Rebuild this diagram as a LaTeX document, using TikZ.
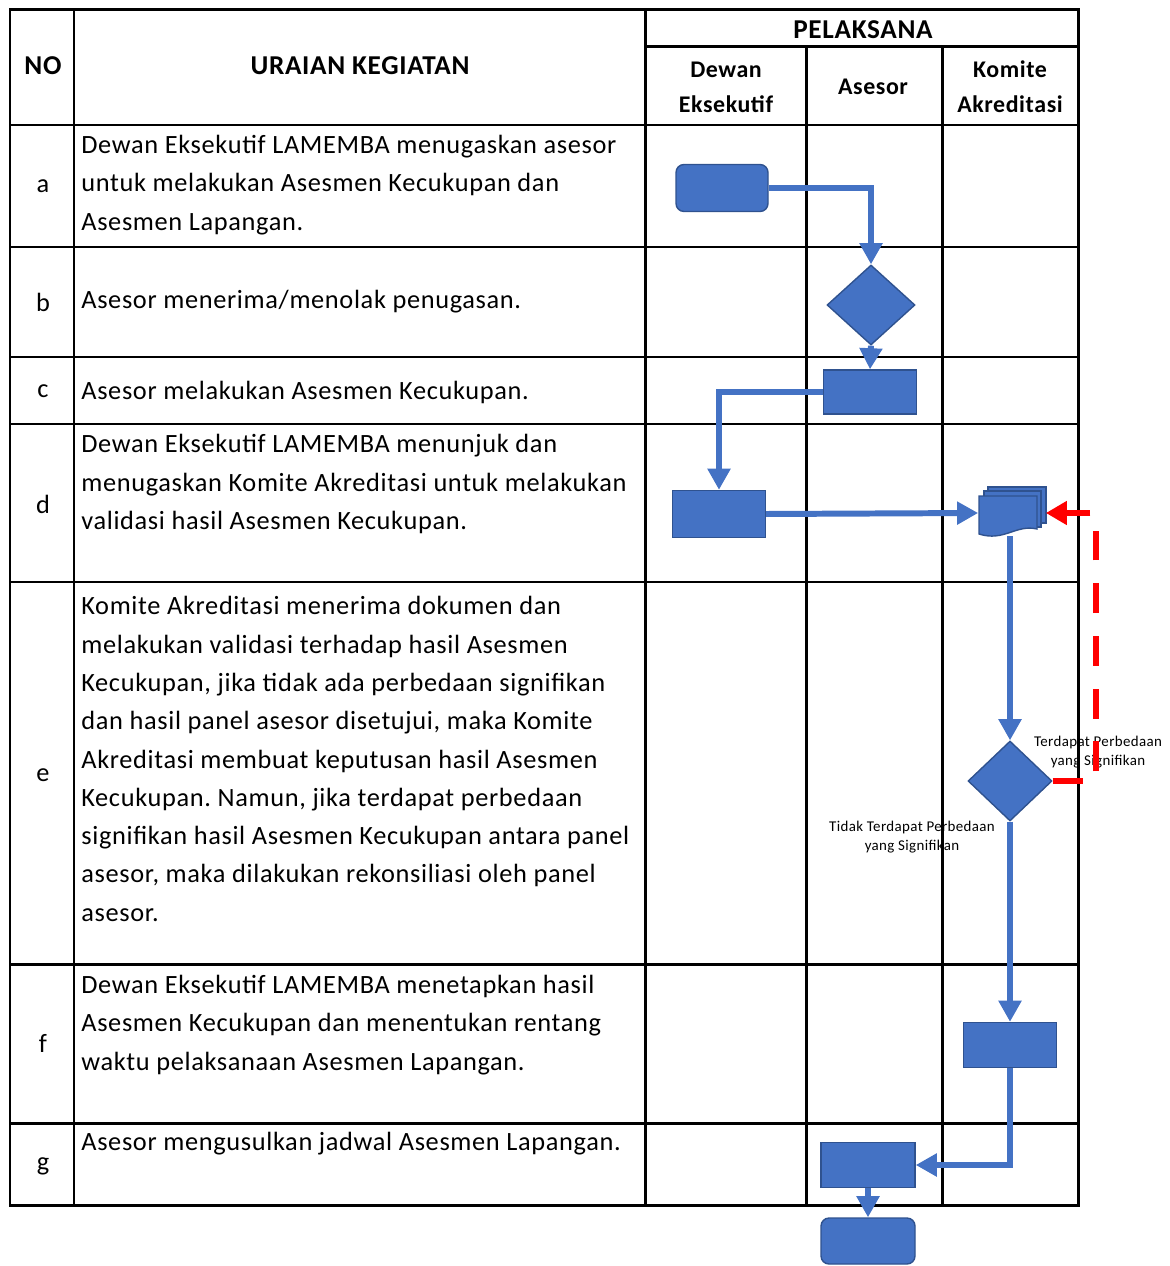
\documentclass[tikz,border=0pt]{standalone}
\usepackage{fontspec}
\setmainfont[LetterSpace=2.5]{Carlito}
\frenchspacing
\usetikzlibrary{shapes.geometric,arrows.meta}
\definecolor{flowblue}{HTML}{4472C4}
\definecolor{flowedge}{HTML}{2F528F}
\tikzset{
tabline/.style={line width=1.7pt},
kegiatan/.style={font=\fontsize{15}{21.8}\selectfont, align=left, anchor=west, inner sep=0pt},
nomor/.style={font=\fontsize{15}{21.8}\selectfont, inner sep=0pt},
judul/.style={font=\fontsize{15.5}{19.8}\selectfont\bfseries, align=center, inner sep=0pt},
pelaku/.style={font=\fontsize{13.6}{19.8}\selectfont\bfseries, align=center, inner sep=0pt},
catatan/.style={font=\fontsize{8.5}{10.8}\selectfont, align=center, inner sep=0pt},
proses/.style={draw=flowedge, fill=flowblue, line width=0.8pt, inner sep=0pt},
terminal/.style={proses, rounded corners=0.16cm},
putusan/.style={proses, diamond},
alur/.style={draw=flowblue, line width=3.4pt, -{Triangle[length=12pt,width=12.5pt]}},
balik/.style={draw=red, line width=3.4pt, dash pattern=on 17pt off 13pt, -{Triangle[length=12pt,width=13pt]}}
}
\begin{document}
\begin{tikzpicture}[x=0.02cm,y=-0.02cm]
\useasboundingbox (0,0) rectangle (1169,1266);
% header
\node[judul] (hno) at (43,66) {NO};
\node[judul] (hur) at (360,66) {URAIAN KEGIATAN};
\node[judul] (hpl) at (863,30) {PELAKSANA};
\node[pelaku] (hde) at (726,87) {Dewan\\Eksekutif};
\node[pelaku] (has) at (873,87) {Asesor};
\node[pelaku] (hko) at (1010,87) {Komite\\Akreditasi};
% nomor
\node[nomor] (noa) at (43,186) {a};
\node[nomor] (nob) at (43,302) {b};
\node[nomor] (noc) at (43,391) {c};
\node[nomor] (nod) at (43,504) {d};
\node[nomor] (noe) at (43,775) {e};
\node[nomor] (nof) at (43,1043) {f};
\node[nomor] (nog) at (43,1166) {g};
% uraian kegiatan
\node[kegiatan] (kega) at (81,185) {Dewan Eksekutif LAMEMBA menugaskan asesor\\untuk melakukan Asesmen Kecukupan dan\\Asesmen Lapangan.};
\node[kegiatan] (kegb) at (81,302) {Asesor menerima/menolak penugasan.};
\node[kegiatan] (kegc) at (81,392) {Asesor melakukan Asesmen Kecukupan.};
\node[kegiatan] (kegd) at (81,484) {Dewan Eksekutif LAMEMBA menunjuk dan\\menugaskan Komite Akreditasi untuk melakukan\\validasi hasil Asesmen Kecukupan.};
\node[kegiatan] (kege) at (81,759) {Komite Akreditasi menerima dokumen dan\\melakukan validasi terhadap hasil Asesmen\\Kecukupan, jika tidak ada perbedaan signifikan\\dan hasil panel asesor disetujui, maka Komite\\Akreditasi membuat keputusan hasil Asesmen\\Kecukupan. Namun, jika terdapat perbedaan\\signifikan hasil Asesmen Kecukupan antara panel\\asesor, maka dilakukan rekonsiliasi oleh panel\\asesor.};
\node[kegiatan] (kegf) at (81,1025) {Dewan Eksekutif LAMEMBA menetapkan hasil\\Asesmen Kecukupan dan menentukan rentang\\waktu pelaksanaan Asesmen Lapangan.};
\node[kegiatan] (kegg) at (81,1144) {Asesor mengusulkan jadwal Asesmen Lapangan.};
% catatan
\node[catatan] (ya) at (1098,752) {Terdapat Perbedaan\\yang Signifikan};
\node[catatan] (tidak) at (912,837) {Tidak Terdapat Perbedaan\\yang Signifikan};
% tabel
\draw[tabline] (10,10) rectangle (1078,1205);
\draw[tabline] (74,10)--(74,1205) (645,10)--(645,1205);
\draw[tabline] (806,47)--(806,1205) (942,47)--(942,1205) (645,47)--(1078,47);
\draw[tabline] (10,125)--(1078,125) (10,247)--(1078,247) (10,357)--(1078,357) (10,424)--(1078,424);
\draw[tabline] (10,582)--(1078,582) (10,964)--(1078,964) (10,1123)--(1078,1123);
% bagan alir
\node[terminal, minimum width=1.84cm, minimum height=0.94cm] (mulai) at (722,188) {};
\node[putusan, minimum width=1.76cm, minimum height=1.6cm] (terima) at (871,305) {};
\node[proses, minimum width=1.86cm, minimum height=0.88cm] (ak) at (870,392) {};
\node[proses, minimum width=1.86cm, minimum height=0.94cm] (tunjuk) at (719,514) {};
\node[minimum width=1.34cm, minimum height=0.92cm, inner sep=0pt] (dok) at (1012,513) {};
\filldraw[fill=flowblue, draw=flowedge, line width=0.8pt] (988,487) rectangle (1046,523);
\filldraw[fill=flowblue, draw=flowedge, line width=0.8pt] (984,491) rectangle (1041,527);
\filldraw[fill=flowblue, draw=flowedge, line width=0.8pt] (979,496) -- (1037,496) -- (1037,529) .. controls (1016,524) and (1004,542) .. (979,534) -- cycle;
\node[putusan, minimum width=1.68cm, minimum height=1.6cm] (validasi) at (1010,781) {};
\node[proses, minimum width=1.86cm, minimum height=0.9cm] (tetap) at (1010,1045) {};
\node[proses, minimum width=1.88cm, minimum height=0.9cm] (jadwal) at (868,1165) {};
\node[terminal, minimum width=1.88cm, minimum height=0.92cm] (selesai) at (868,1241) {};
\draw[alur] (mulai.east) -| (terima.north);
\draw[alur] (terima.south) -- (ak.north);
\draw[alur] (ak.west) -| (tunjuk.north);
\draw[alur] (tunjuk.east) -- (dok.west);
\draw[alur] (validasi.north |- dok.south) -- (validasi.north);
\draw[balik] (validasi.east) -- ++(43,0) |- (dok.east);
\draw[alur] (validasi.south) -- (tetap.north);
\draw[alur] (tetap.south) |- (jadwal.east);
\draw[alur] (jadwal.south) -- (selesai.north);
\end{tikzpicture}
\end{document}
